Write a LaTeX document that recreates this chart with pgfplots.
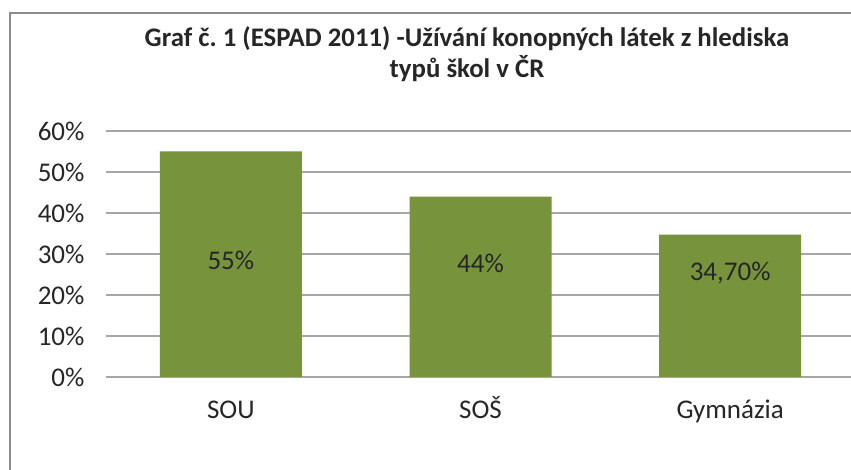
\documentclass[border=0pt]{standalone}
\usepackage{pgfplots}
\pgfplotsset{compat=1.18}
\usepackage{fontspec}
\setmainfont{Carlito}
\frenchspacing
\definecolor{barg}{HTML}{77933C}
\definecolor{gridc}{HTML}{A6A6A6}
\definecolor{txt}{HTML}{262626}
\definecolor{frame}{HTML}{8C8C8C}
\begin{document}
\begin{tikzpicture}[x=1pt,y=1pt]
\path[use as bounding box, clip] (0,0) rectangle (851,470);
\fill[white] (0,0) rectangle (851,470);
\draw[frame, line width=1.6pt] (10,-20) -- (10,457) -- (900,457);
\node[font=\fontsize{26.8}{31}\selectfont\bfseries, text=txt, anchor=base] at (467,423) {Graf č. 1 (ESPAD 2011) -Užívání konopných látek z hlediska};
\node[font=\fontsize{26.8}{31}\selectfont\bfseries, text=txt, anchor=base] at (467,392) {typů škol v ČR};
\begin{axis}[
  at={(106pt,93pt)}, anchor=south west,
  scale only axis, width=749pt, height=246pt,
  xmin=-0.5, xmax=2.5, ymin=0, ymax=60,
  xtick={0,1,2}, xticklabels={SOU,SOŠ,Gymnázia},
  ytick={0,10,20,30,40,50,60},
  yticklabels={0\%,10\%,20\%,30\%,40\%,50\%,60\%},
  ymajorgrids, major grid style={gridc, line width=1.2pt},
  axis line style={draw=none},
  major tick length=0pt,
  tick label style={font=\fontsize{27}{31}\selectfont, text=txt},
  yticklabel style={xshift=-18pt},
  xticklabel style={anchor=base, yshift=-42pt},
  clip=false,
]
\addplot[ybar, bar width=142pt, fill=barg, draw=none] coordinates {(0,55) (1,44) (2,34.7)};
\addplot[draw=none, mark=none, nodes near coords, point meta=explicit symbolic,
  nodes near coords style={anchor=center, font=\fontsize{27}{31}\selectfont, text=txt}]
  coordinates {(0,28.5) [55\%] (1,27.8) [44\%] (2,25.4) [34,70\%]};
\end{axis}
\end{tikzpicture}
\end{document}
